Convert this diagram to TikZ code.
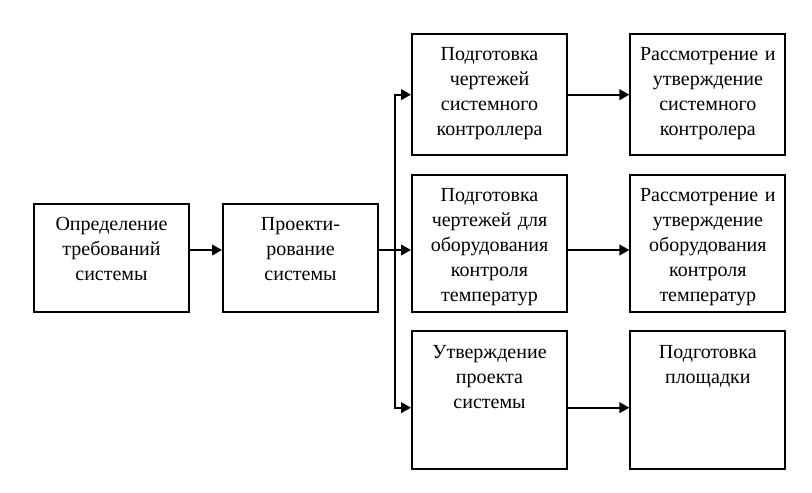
\documentclass[tikz,border=0pt]{standalone}
\usepackage{fontspec}
\setmainfont{Liberation Serif}
\usepackage{tikz}
\usetikzlibrary{calc, positioning, arrows.meta}

\begin{document}
\begin{tikzpicture}[
  x=0.75pt, y=-0.75pt,
  blok/.style={rectangle, draw, line width=1.5pt, font=\fontsize{15pt}{18.75pt}\selectfont, align=center, text width=110.25pt, inner sep=3pt, text height=17pt, text depth=#1},
  strelka/.style={line width=1.5pt, -{Triangle[length=7.5pt, width=8pt]}}
]
  \useasboundingbox (0,0) rectangle (812,492);

  \node[blok=68pt, anchor=north west] (chert) at (411,33) {
    Подготовка\\
    чертежей\\
    системного\\
    контроллера
  };
  \node[blok=80pt, below=13pt of chert] (oborud) {
    Подготовка\\
    чертежей для\\
    оборудования\\
    контроля\\
    температур
  };
  \node[blok=80.5pt, below=13pt of oborud] (utv) {
    Утверждение\\
    проекта\\
    системы
  };

  \node[blok=68pt, right=46pt of chert] (rasskontr) {
    Рассмотрение и\\
    утверждение\\
    системного\\
    контролера
  };
  \node[blok=80pt, right=46pt of oborud] (rassoborud) {
    Рассмотрение и\\
    утверждение\\
    оборудования\\
    контроля\\
    температур
  };
  \node[blok=80.5pt, right=46pt of utv] (plosh) {
    Подготовка\\
    площадки
  };

  \node[blok=58pt, left=24pt of oborud.south west, anchor=south east] (proekt) {
    Проекти-\\
    рование\\
    системы
  };
  \node[blok=58pt, left=24pt of proekt] (treb) {
    Определение\\
    требований\\
    системы
  };

  \coordinate (vyhod) at ([yshift=6pt]proekt.east);
  \coordinate (razv) at ($(vyhod -| oborud.west)+(-12pt,0)$);

  \draw[strelka] ([yshift=6pt]treb.east) -- ([yshift=6pt]proekt.west);
  \draw[strelka] (vyhod) -- (vyhod -| oborud.west);
  \draw[strelka] (razv) |- (chert.west);
  \draw[strelka] (razv) |- ([yshift=-5.5pt]utv.west);

  \draw[strelka] (chert) -- (rasskontr);
  \draw[strelka] (vyhod -| oborud.east) -- (vyhod -| rassoborud.west);
  \draw[strelka] ([yshift=-5.5pt]utv.east) -- ([yshift=-5.5pt]plosh.west);
\end{tikzpicture}
\end{document}
